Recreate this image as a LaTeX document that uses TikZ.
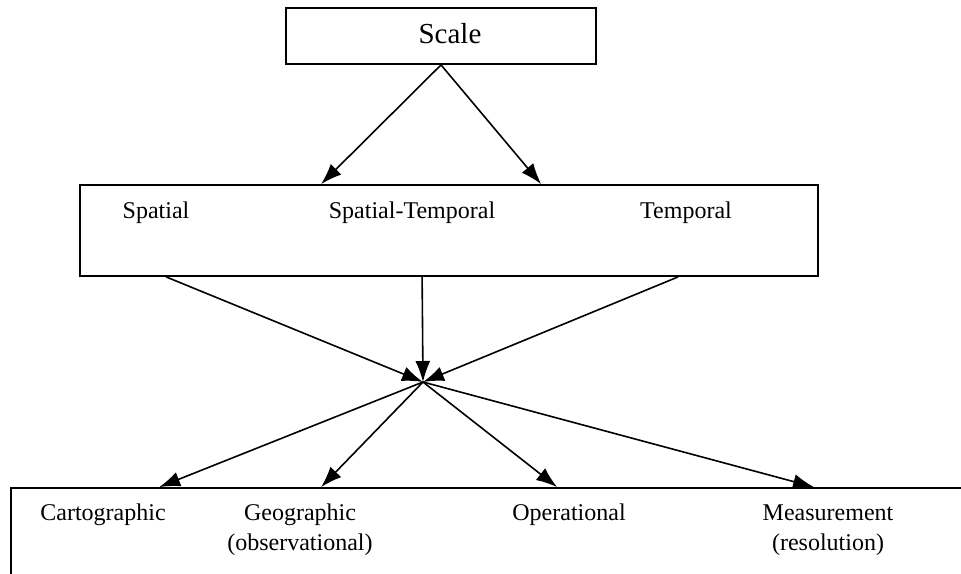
\documentclass[tikz,border=0pt]{standalone}
\usepackage{fontspec}
\setmainfont{Liberation Serif}
\usetikzlibrary{arrows.meta}

\begin{document}
\begin{tikzpicture}[
    x=0.5pt, y=-0.5pt,
    box/.style={rectangle, draw, line width=0.9pt, inner sep=0pt},
    arrow/.style={-{Latex[length=10.5pt,width=7.5pt]}, line width=0.8pt},
    txt/.style={font=\fontsize{12}{15}\selectfont, align=center, inner sep=0pt},
    big/.style={font=\fontsize{14.5}{17}\selectfont, inner sep=0pt}
]
    \useasboundingbox (0,0) rectangle (961,573);
    \clip (0,0) rectangle (961,573);

    % Top level: Scale
    \node[box, minimum width=155pt, minimum height=28pt] (scale) at (441,36) {};
    \node[big] (scaletxt) at (450,34) {Scale};

    % Middle level: kinds of scale
    \node[box, minimum width=369pt, minimum height=45.5pt] (mid) at (449,230.5) {};
    \node[txt] (spatial) at (156,213) {Spatial};
    \node[txt] (spatemp) at (412,213) {Spatial-Temporal};
    \node[txt] (temporal) at (686,213) {Temporal};

    % Bottom level (runs off the page)
    \node[box, minimum width=500pt, minimum height=70pt] (kinds) at (511,558) {};
    \node[txt] (carto) at (103,515) {Cartographic};
    \node[txt] (geo) at (300,530) {Geographic\\(observational)};
    \node[txt] (oper) at (569,515) {Operational};
    \node[txt] (meas) at (828,530) {Measurement\\(resolution)};

    \coordinate (hub) at (423,382);

    % Arrows
    \draw[arrow] (scale.south) -- ([xshift=121pt]mid.north west);
    \draw[arrow] (scale.south) -- ([xshift=231pt]mid.north west);

    \draw[arrow] ([xshift=43.5pt]mid.south west) -- (hub);
    \draw[arrow] ([xshift=171.5pt]mid.south west) -- (hub);
    \draw[arrow] ([xshift=299.5pt]mid.south west) -- (hub);

    \draw[arrow] (hub) -- ([xshift=74.5pt]kinds.north west);
    \draw[arrow] (hub) -- ([xshift=155.5pt]kinds.north west);
    \draw[arrow] (hub) -- ([xshift=273.5pt]kinds.north west);
    \draw[arrow] (hub) -- ([xshift=402pt]kinds.north west);
\end{tikzpicture}
\end{document}
